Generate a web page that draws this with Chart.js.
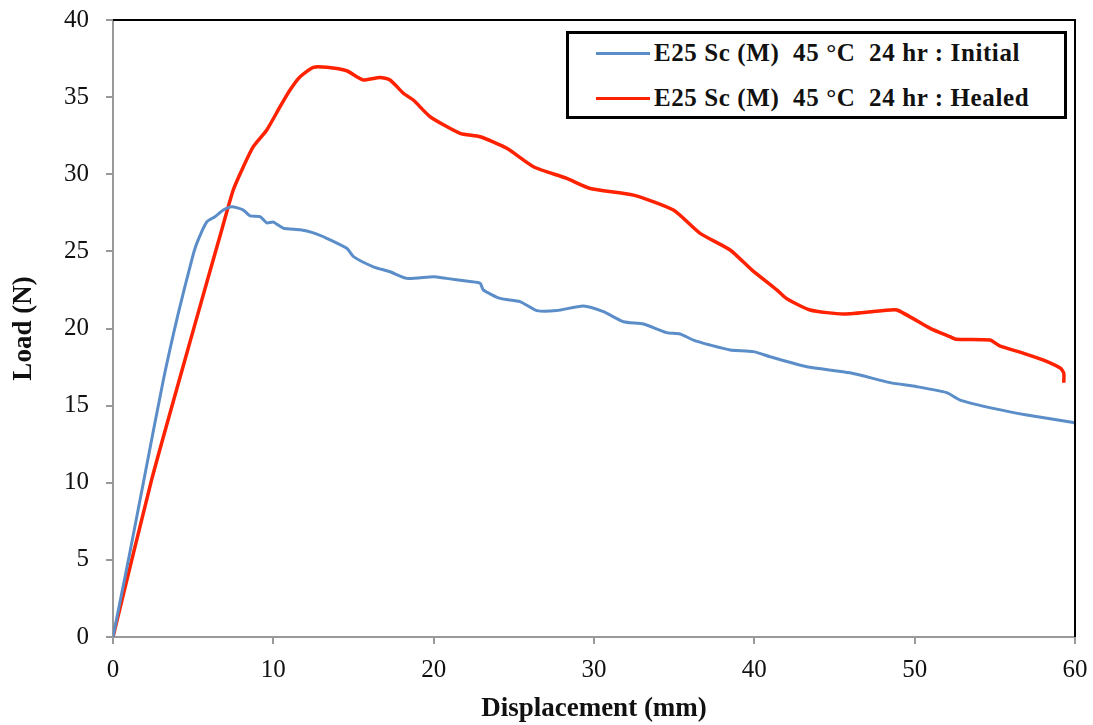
<!DOCTYPE html>
<html>
<head>
<meta charset="utf-8">
<script src="https://cdn.jsdelivr.net/npm/chart.js@4.4.1/dist/chart.umd.min.js"></script>
<style>
  html, body { margin: 0; padding: 0; background: #fff; }
  #wrap { position: relative; width: 1093px; height: 725px; }
  #legend {
    position: absolute; left: 566px; top: 31px; width: 501px; height: 88px;
    box-sizing: border-box; border: 3px solid #000; background: #fff;
  }
  .row {
    position: absolute; left: 27px; height: 30px; line-height: 30px;
    font-family: "Liberation Serif", "Times New Roman", serif; font-weight: bold;
    font-size: 25px; letter-spacing: 0.6px; white-space: pre; color: #111;
  }
  .swatch { display: inline-block; width: 54px; height: 3px; vertical-align: middle; margin-right: 4px; position: relative; top: -2px; }
</style>
</head>
<body>
<div id="wrap">
  <canvas id="myChart" width="1093" height="725"></canvas>
  <div id="legend"></div>
</div>
<script>
// Displacement (mm) / Load (N)
const initialX = [0, 1.0, 1.93, 3.14, 4.07, 4.91, 5.22, 5.84, 6.36, 6.88, 7.4, 8.13, 8.55, 9.17, 9.59, 10.0, 10.63, 11.67, 12.5, 13.33,
  14.58, 15.0, 16.24, 17.28, 18.32, 19.98, 20.8, 22.27, 22.9, 23.1, 24.14, 25.39, 26.43, 27.68, 29.34, 30.59, 31.84, 33.09, 34.54, 35.37,
  36.2, 37.24, 38.49, 39.94, 40.98, 43.27, 45.97, 48.47, 50.13, 52.0, 52.84, 54.9, 57.0, 59.9, 60.0];
const initialY = [0, 5.2, 10.2, 16.66, 20.98, 24.44, 25.5, 26.9, 27.25, 27.68, 27.9, 27.68, 27.3, 27.25, 26.85, 26.9, 26.5, 26.4, 26.2, 25.85,
  25.2, 24.66, 24.0, 23.68, 23.25, 23.36, 23.25, 23.04, 22.93, 22.5, 21.95, 21.74, 21.16, 21.16, 21.46, 21.09, 20.44, 20.29, 19.73, 19.64,
  19.25, 18.93, 18.61, 18.5, 18.17, 17.52, 17.13, 16.49, 16.23, 15.84, 15.36, 14.82, 14.39, 13.9, 13.85];

const healedX = [0, 2.41, 5.07, 6.78, 7.5, 8.13, 8.75, 9.59, 10.42, 11.04, 11.67, 12.5, 13.33, 14.58, 15.2, 15.62, 16.66, 17.28, 18.11, 18.73,
  19.78, 21.65, 22.9, 24.56, 26.22, 28.3, 29.76, 32.46, 34.95, 36.62, 38.49, 39.84, 41.4, 42.0, 43.48, 45.56, 48.05, 48.9, 50.97, 52.2,
  52.6, 54.7, 55.3, 56.8, 58.0, 59.1, 59.3, 59.3];
const healedY = [0, 10.2, 20.12, 26.39, 28.98, 30.49, 31.79, 32.87, 34.38, 35.46, 36.32, 36.93, 36.93, 36.71, 36.32, 36.11, 36.28, 36.11, 35.25, 34.81,
  33.73, 32.65, 32.43, 31.68, 30.49, 29.73, 29.08, 28.65, 27.68, 26.17, 25.09, 23.8, 22.5, 21.95, 21.2, 20.94, 21.16, 21.2, 20.01, 19.47,
  19.3, 19.25, 18.87, 18.39, 17.96, 17.42, 17.1, 16.49];

const seriesNames = ["E25 Sc (M)  45 \u00B0C  24 hr : Initial", "E25 Sc (M)  45 \u00B0C  24 hr : Healed"];
const seriesColors = ["#5b8ec8", "#ff2200"];

function toPoints(xs, ys) {
    return xs.map(function (x, i) { return { x: x, y: ys[i] }; });
}

// top and right frame lines
const framePlugin = {
    id: "frame",
    afterDraw: function (chart) {
        const a = chart.chartArea;
        const ctx = chart.ctx;
        ctx.save();
        ctx.strokeStyle = "#000";
        ctx.lineWidth = 2;
        ctx.beginPath();
        ctx.moveTo(a.left, a.top);
        ctx.lineTo(a.right, a.top);
        ctx.lineTo(a.right, a.bottom);
        ctx.stroke();
        ctx.restore();
    }
};

const tickFont = { family: "'Liberation Serif', 'Times New Roman', serif", size: 25 };
const titleFont = { family: "'Liberation Serif', 'Times New Roman', serif", size: 27, weight: "bold" };

const myChart = new Chart("myChart", {
    type: "scatter",
    data: {
        datasets: [{
            label: seriesNames[0],
            data: toPoints(initialX, initialY),
            borderColor: seriesColors[0],
            borderWidth: 3,
            showLine: true,
            pointRadius: 0,
            tension: 0.2,
            fill: false
        }, {
            label: seriesNames[1],
            data: toPoints(healedX, healedY),
            borderColor: seriesColors[1],
            borderWidth: 3.5,
            showLine: true,
            pointRadius: 0,
            tension: 0.2,
            fill: false
        }]
    },
    options: {
        responsive: false,
        animation: false,
        layout: { padding: { top: 20, right: 18, left: 0, bottom: 0 } },
        plugins: {
            legend: { display: false },
            tooltip: { enabled: false }
        },
        scales: {
            x: {
                type: "linear",
                min: 0, max: 60,
                ticks: { stepSize: 10, color: "#111", font: tickFont, padding: 11, maxRotation: 0 },
                grid: { display: true, drawOnChartArea: false, tickLength: 7, color: "#999", lineWidth: 2 },
                border: { color: "#999", width: 2 },
                title: { display: true, text: "Displacement (mm)", color: "#111", font: titleFont, padding: { top: 0, bottom: 0 } },
                afterFit: function (scale) {
                    scale.height = 88;
                    scale.paddingLeft = 0;
                    scale.paddingRight = 0;
                }
            },
            y: {
                min: 0, max: 40,
                ticks: { stepSize: 5, color: "#111", font: tickFont, padding: 17 },
                grid: { display: true, drawOnChartArea: false, tickLength: 7, color: "#999", lineWidth: 2 },
                border: { color: "#999", width: 2 },
                title: { display: true, text: "Load (N)", color: "#111", font: titleFont, padding: { top: 8, bottom: 0 } },
                afterFit: function (scale) {
                    scale.width = 113;
                    scale.paddingTop = 0;
                    scale.paddingBottom = 0;
                }
            }
        }
    },
    plugins: [framePlugin]
});

// html legend built from the datasets
const legendBox = document.getElementById("legend");
myChart.data.datasets.forEach(function (ds, i) {
    const row = document.createElement("div");
    row.className = "row";
    row.style.top = (i * 45 + 4) + "px";
    const sw = document.createElement("span");
    sw.className = "swatch";
    sw.style.background = ds.borderColor;
    row.appendChild(sw);
    row.appendChild(document.createTextNode(ds.label));
    legendBox.appendChild(row);
});
</script>
</body>
</html>
